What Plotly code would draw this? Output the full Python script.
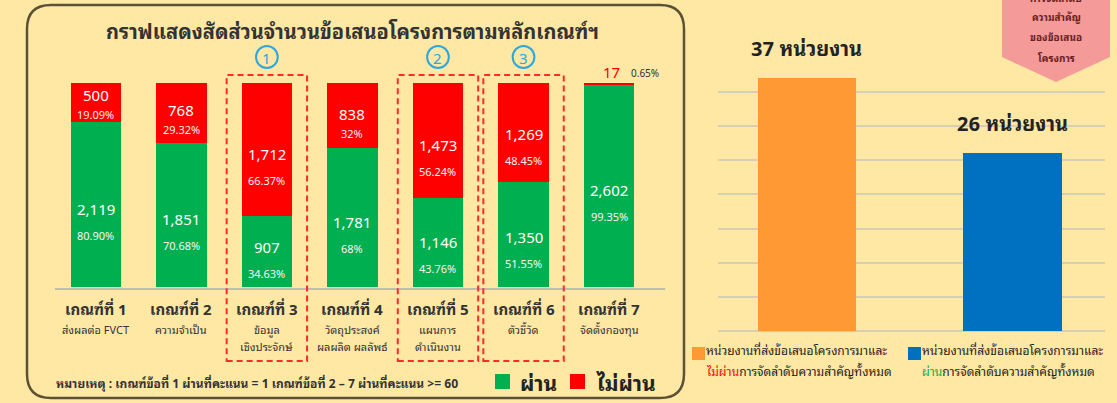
import plotly.graph_objects as go

# ---- data -------------------------------------------------------------
criteria = ["เกณฑ์ที่ 1", "เกณฑ์ที่ 2", "เกณฑ์ที่ 3", "เกณฑ์ที่ 4",
            "เกณฑ์ที่ 5", "เกณฑ์ที่ 6", "เกณฑ์ที่ 7"]
criteria_sub = [["ส่งผลต่อ FVCT"], ["ความจำเป็น"], ["ข้อมูล", "เชิงประจักษ์"],
                ["วัตถุประสงค์", "ผลผลิต ผลลัพธ์"], ["แผนการ", "ดำเนินงาน"],
                ["ตัวชี้วัด"], ["จัดตั้งกองทุน"]]
passed = [2119, 1851, 907, 1781, 1146, 1350, 2602]
failed = [500, 768, 1712, 838, 1473, 1269, 17]
passed_pct = ["80.90%", "70.68%", "34.63%", "68%", "43.76%", "51.55%", "99.35%"]
failed_pct = ["19.09%", "29.32%", "66.37%", "32%", "56.24%", "48.45%", "0.65%"]
highlighted = {2: "1", 4: "2", 5: "3"}   # criteria index -> circled marker

units_labels = ["ไม่ผ่าน", "ผ่าน"]
units_values = [37, 26]

# ---- page geometry (pixels) ---------------------------------------------
W, H = 1117, 403
BG = "#FFE8A4"
GREEN, RED = "#00AF50", "#FF0000"
ORANGE, BLUE = "#FF9933", "#0070C0"
FONT = "Tahoma, 'Noto Sans Thai Looped', 'Noto Sans Thai', sans-serif"


def px(x):
    return x / W


def py(y):
    return 1 - y / H


def note(text, **kw):
    """Annotation centred on its anchor point unless told otherwise."""
    base = dict(text=text, showarrow=False, xanchor="center", yanchor="middle", borderpad=0)
    base.update(kw)
    return base


L_TOP, L_BOT = 83, 287          # left chart plot area (vertical)
L_LEFT, L_RIGHT = 53, 660
R_TOP, R_BOT = 64.6, 331        # right chart plot area (vertical)
R_LEFT, R_RIGHT = 718, 1105
R_MAX = 39

fig = go.Figure()

# ---- left chart: stacked pass / fail bars --------------------------------
fig.add_trace(go.Bar(x=criteria, y=passed, marker=dict(color=GREEN, line=dict(width=0)),
                     width=0.59, name="ผ่าน", xaxis="x", yaxis="y", hoverinfo="skip"))
fig.add_trace(go.Bar(x=criteria, y=failed, marker=dict(color=RED, line=dict(width=0)),
                     width=0.59, name="ไม่ผ่าน", xaxis="x", yaxis="y", hoverinfo="skip"))

# ---- right chart: number of units ---------------------------------------
fig.add_trace(go.Bar(x=[0, 1], y=units_values, marker=dict(color=[ORANGE, BLUE], line=dict(width=0)),
                     width=0.48, xaxis="x2", yaxis="y2", hoverinfo="skip"))

annotations = []
shapes = []

# panel outline with rounded corners
x0, x1, y0, y1, r = 27, 684, 5, 398, 24
panel = (f"M {px(x0+r)},{py(y0)} L {px(x1-r)},{py(y0)} "
         f"Q {px(x1)},{py(y0)} {px(x1)},{py(y0+r)} L {px(x1)},{py(y1-r)} "
         f"Q {px(x1)},{py(y1)} {px(x1-r)},{py(y1)} L {px(x0+r)},{py(y1)} "
         f"Q {px(x0)},{py(y1)} {px(x0)},{py(y1-r)} L {px(x0)},{py(y0+r)} "
         f"Q {px(x0)},{py(y0)} {px(x0+r)},{py(y0)} Z")
shapes.append(dict(type="path", path=panel, xref="paper", yref="paper",
                   line=dict(color="#5B5236", width=2.5), layer="below"))

# base line under the stacked bars
shapes.append(dict(type="line", xref="paper", yref="paper", x0=px(55), x1=px(665),
                   y0=py(289), y1=py(289), line=dict(color="#BFBDB0", width=2)))

# title
annotations.append(note("<b>กราฟแสดงสัดส่วนจำนวนข้อเสนอโครงการตามหลักเกณฑ์ฯ</b>",
                        xref="paper", yref="paper", x=px(352), y=py(30),
                        font=dict(size=20, color="#333333")))

# value labels inside the segments
unit_px = (L_BOT - L_TOP) / (passed[0] + failed[0])
for i, cat in enumerate(criteria):
    segs = [(0, passed[i], passed_pct[i]), (passed[i], failed[i], failed_pct[i])]
    for base, val, pct in segs:
        seg_px = val * unit_px
        if seg_px < 20:
            continue
        mid = base + val / 2
        shift = min(17, max(0, 0.2 * seg_px - 6))
        gap = 20 if seg_px < 66 else 27
        annotations.append(note(f"{val:,}", x=cat, y=mid, xref="x", yref="y",
                                yshift=-(shift - gap / 2),
                                font=dict(size=15, color="white")))
        annotations.append(note(pct, x=cat, y=mid, xref="x", yref="y",
                                yshift=-(shift + gap / 2),
                                font=dict(size=11, color="#FBF3F3")))
    total = passed[i] + failed[i]
    if failed[i] * unit_px < 20:
        annotations.append(note(f"{failed[i]:,}", x=i + 0.03, y=total, xref="x", yref="y",
                                yshift=12, font=dict(size=15, color=RED)))
        annotations.append(note(failed_pct[i], x=i + 0.42, y=total, xref="x", yref="y",
                                yshift=11, font=dict(size=10, color="#333333")))

    # category labels
    annotations.append(note(f"<b>{cat}</b>", x=cat, xref="x", y=py(308), yref="paper",
                            font=dict(size=15, color="#333333")))
    for k, line in enumerate(criteria_sub[i]):
        annotations.append(note(line, x=cat, xref="x", y=py(329 + 17 * k), yref="paper",
                                font=dict(size=11, color="#333333")))

# highlighted criteria: dashed frame and circled number
for i, num in highlighted.items():
    shapes.append(dict(type="rect", xref="x", yref="paper", x0=i - 0.47, x1=i + 0.47,
                       y0=py(361), y1=py(75),
                       line=dict(color="#FF2A2A", width=2, dash="6px,4px")))
    shapes.append(dict(type="circle", xref="x", yref="paper", x0=i - 0.127, x1=i + 0.127,
                       y0=py(68), y1=py(46), line=dict(color="#2CA7DF", width=2)))
    annotations.append(note(num, x=i, xref="x", y=py(57), yref="paper",
                            font=dict(size=15, color="#2CA7DF")))

# footnote and legend of the left chart
annotations.append(note("<b>หมายเหตุ : เกณฑ์ข้อที่ 1 ผ่านที่คะแนน = 1 เกณฑ์ข้อที่ 2 – 7 ผ่านที่คะแนน >= 60</b>",
                        xref="paper", yref="paper", x=px(55), y=py(382), xanchor="left",
                        font=dict(size=12, color="#333333")))
for (sx, color, label, tx) in [(495, GREEN, "ผ่าน", 519), (570, RED, "ไม่ผ่าน", 595)]:
    shapes.append(dict(type="rect", xref="paper", yref="paper", x0=px(sx), x1=px(sx + 15),
                       y0=py(389), y1=py(374), fillcolor=color, line=dict(width=0)))
    annotations.append(note(f"<b>{label}</b>", xref="paper", yref="paper", x=px(tx), y=py(381),
                            xanchor="left", font=dict(size=21, color="#222222")))

# right chart: value labels
for i, v in enumerate(units_values):
    annotations.append(note(f"<b>{v} หน่วยงาน</b>", x=i, y=v, xref="x2", yref="y2",
                            yanchor="bottom", yshift=14,
                            font=dict(size=20, color="#222222")))

# right chart legend
legend_items = [(692, ORANGE, f"<span style='color:{RED}'>ไม่ผ่าน</span>"),
                (908, BLUE, f"<span style='color:{GREEN}'>ผ่าน</span>")]
for sx, color, word in legend_items:
    shapes.append(dict(type="rect", xref="paper", yref="paper", x0=px(sx), x1=px(sx + 13),
                       y0=py(360), y1=py(347), fillcolor=color, line=dict(width=0)))
    annotations.append(note("หน่วยงานที่ส่งข้อเสนอโครงการมาและ", xref="paper", yref="paper",
                            x=px(sx + 13), y=py(349), xanchor="left",
                            font=dict(size=12, color="#222222")))
    annotations.append(note(word + "การจัดลำดับความสำคัญทั้งหมด", xref="paper", yref="paper",
                            x=px(sx + 13), y=py(370), xanchor="left",
                            font=dict(size=12, color="#222222")))

# ribbon tag at the top right
ribbon = (f"M {px(1002)},{py(-2)} L {px(1110)},{py(-2)} L {px(1110)},{py(57)} "
          f"L {px(1056)},{py(82)} L {px(1002)},{py(57)} Z")
shapes.append(dict(type="path", path=ribbon, xref="paper", yref="paper",
                   fillcolor="#F49A98", line=dict(width=0)))
for k, line in enumerate(["การจัดลำดับ", "ความสำคัญ", "ของข้อเสนอ", "โครงการ"]):
    annotations.append(note(f"<b>{line}</b>", xref="paper", yref="paper",
                            x=px(1056), y=py(-3 + 20 * k),
                            font=dict(size=10, color="#6B2020")))

fig.update_layout(
    width=W, height=H,
    margin=dict(l=0, r=0, t=0, b=0),
    paper_bgcolor=BG, plot_bgcolor="rgba(0,0,0,0)",
    barmode="stack", showlegend=False,
    font=dict(family=FONT),
    xaxis=dict(domain=[px(L_LEFT), px(L_RIGHT)], showticklabels=False, showgrid=False,
               zeroline=False, showline=False, fixedrange=True, anchor="y"),
    yaxis=dict(domain=[py(L_BOT), py(L_TOP)], range=[0, passed[0] + failed[0]],
               showticklabels=False, showgrid=False, zeroline=False, anchor="x"),
    xaxis2=dict(domain=[px(R_LEFT), px(R_RIGHT)], range=[-0.433, 1.45],
                showticklabels=False, showgrid=False, zeroline=False, anchor="y2"),
    yaxis2=dict(domain=[py(R_BOT), py(R_TOP)], range=[0, R_MAX], dtick=5,
                showticklabels=False, showgrid=True, gridcolor="#D6CFB2", gridwidth=1.5,
                zeroline=True, zerolinecolor="#D6CFB2", zerolinewidth=1.5, anchor="x2"),
    annotations=annotations,
    shapes=shapes,
)

fig.write_html("out.html")
